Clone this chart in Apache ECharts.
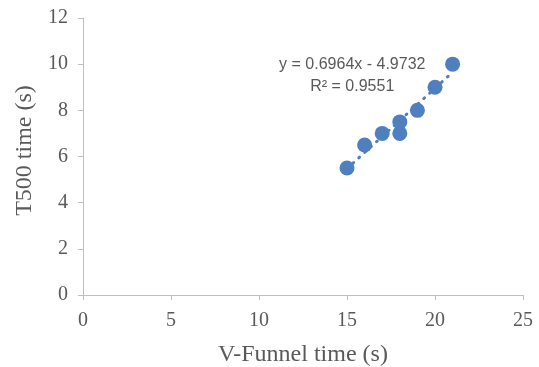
<!DOCTYPE html>
<html>
<head>
<meta charset="utf-8">
<script src="https://cdn.jsdelivr.net/npm/echarts@6/dist/echarts.min.js"></script>
<style>
  html, body { margin: 0; padding: 0; background: #fff; }
  #main { width: 539px; height: 367px; }
</style>
</head>
<body>
<div id="main"></div>
<script>
// 数据: V-Funnel 时间 vs T500 时间
var vFunnel = [15, 16, 17, 18, 18, 19, 20, 21];
var t500 = [5.5, 6.5, 7, 7.5, 7, 8, 9, 10];
// 趋势线系数
var slope = 0.6964, intercept = -4.9732, r2 = 0.9551;

var myCharts = echarts.init(document.getElementById('main'));

var points = vFunnel.map(function (x, i) { return [x, t500[i]]; });
var xMin = Math.min.apply(null, vFunnel), xMax = Math.max.apply(null, vFunnel);
var trend = [[xMin, slope * xMin + intercept], [xMax, slope * xMax + intercept]];

var axisColor = '#BFBFBF';
var textColor = '#595959';

var option = {
    animation: false,
    grid: { left: 83, right: 16, top: 18, bottom: 72, containLabel: false, outerBoundsMode: 'none' },
    xAxis: {
        type: 'value', min: 0, max: 25, interval: 5,
        name: 'V-Funnel time (s)', nameLocation: 'middle', nameGap: 48,
        nameTextStyle: { fontFamily: 'Liberation Serif', fontSize: 24, color: textColor },
        axisLine: { lineStyle: { color: axisColor } },
        axisTick: { show: true, length: 5, lineStyle: { color: axisColor } },
        axisLabel: { fontFamily: 'Liberation Serif', fontSize: 20, color: textColor, margin: 16 },
        splitLine: { show: false }
    },
    yAxis: {
        type: 'value', min: 0, max: 12, interval: 2,
        name: 'T500 time (s)', nameLocation: 'middle', nameGap: 46,
        nameTextStyle: { fontFamily: 'Liberation Serif', fontSize: 24, color: textColor, padding: [0, 0, 0, 12] },
        axisLine: { show: true, lineStyle: { color: axisColor } },
        axisTick: { show: true, length: 5, lineStyle: { color: axisColor } },
        axisLabel: { fontFamily: 'Liberation Serif', fontSize: 20, color: textColor, margin: 15 },
        splitLine: { show: false }
    },
    series: [
        {
            type: 'line',
            data: trend,
            symbol: 'none',
            lineStyle: { color: '#4F7FBE', width: 3, type: [1, 7], cap: 'round' },
            z: 1
        },
        {
            type: 'scatter',
            data: points,
            symbolSize: 15,
            itemStyle: { color: '#4F7FBE', opacity: 1 },
            z: 2
        }
    ]
};

myCharts.setOption(option);

// 趋势线公式文字
var p1 = myCharts.convertToPixel({ gridIndex: 0 }, [15.3, 10]);
var p2 = myCharts.convertToPixel({ gridIndex: 0 }, [15.3, 9.05]);
myCharts.setOption({
    graphic: [
        {
            type: 'text', x: p1[0], y: p1[1],
            style: { text: 'y = 0.6964x - 4.9732', fill: textColor, font: '16px "Liberation Sans"', align: 'center', verticalAlign: 'middle' }
        },
        {
            type: 'text', x: p2[0], y: p2[1],
            style: { text: 'R² = ' + r2, fill: textColor, font: '16px "Liberation Sans"', align: 'center', verticalAlign: 'middle' }
        }
    ]
});
</script>
</body>
</html>
